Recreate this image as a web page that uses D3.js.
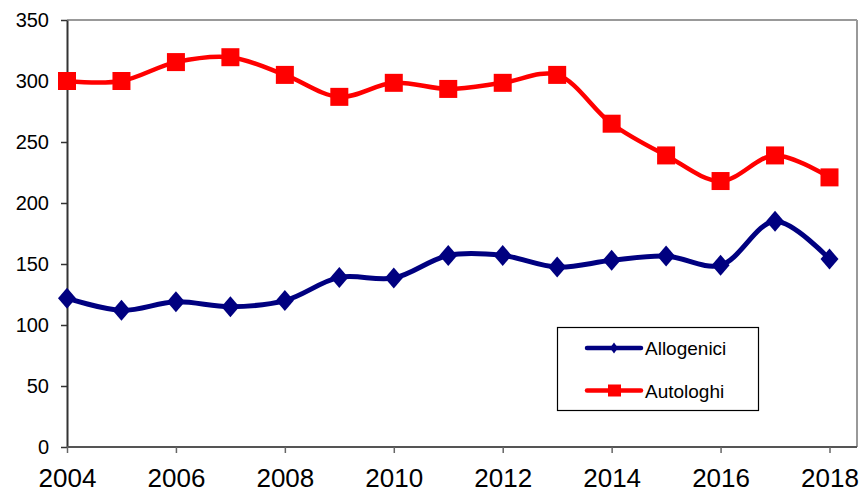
<!DOCTYPE html>
<html>
<head>
<meta charset="utf-8">
<script src="https://cdn.jsdelivr.net/npm/d3@7"></script>
<style>
  body { margin: 0; background: #fff; }
  svg { display: block; font-family: "Liberation Sans", Arial, sans-serif; }
</style>
</head>
<body>
<svg id="chart" width="864" height="491"></svg>
<script>
// data
var years = [2004, 2005, 2006, 2007, 2008, 2009, 2010, 2011, 2012, 2013, 2014, 2015, 2016, 2017, 2018];
var allogenici = [122, 112, 119, 115, 120, 139, 138.5, 157, 157, 147.5, 153, 156.5, 149, 185, 154];
var autologhi = [300, 300, 315.5, 319.5, 305, 287, 298.5, 293.5, 298.5, 305, 265, 239, 218, 239, 221];
var yTicks = [0, 50, 100, 150, 200, 250, 300, 350];
var xTicks = [2004, 2006, 2008, 2010, 2012, 2014, 2016, 2018];
var seriesNames = ["Allogenici", "Autologhi"];

var svg = d3.select("#chart");

// plot box (note: "top" is taken by window.top, so use other names)
var plotLeft = 67, plotRight = 857, plotTop = 20, plotBottom = 447;

var x = d3.scaleLinear().domain([2004, 2018]).range([67, 829.5]);
var y = d3.scaleLinear().domain([0, 350]).range([plotBottom, plotTop]);

// plot frame (top and right edges are grey)
svg.append("line").attr("x1", plotLeft).attr("x2", plotRight).attr("y1", plotTop).attr("y2", plotTop)
    .attr("stroke", "#999").attr("stroke-width", 2);
svg.append("line").attr("x1", plotRight).attr("x2", plotRight).attr("y1", plotTop).attr("y2", plotBottom)
    .attr("stroke", "#999").attr("stroke-width", 2);

// y axis
var yAxis = svg.append("g")
    .attr("transform", "translate(" + plotLeft + ",0)")
    .call(d3.axisLeft(y).tickValues(yTicks).tickSize(6).tickPadding(12).tickSizeOuter(0));
yAxis.select(".domain").attr("stroke", "#333").attr("stroke-width", 2);
yAxis.selectAll(".tick line").attr("stroke", "#333").attr("stroke-width", 1.5);
yAxis.selectAll("text").attr("font-size", "20px").attr("fill", "#000")
    .style("font-family", "Liberation Sans, Arial, sans-serif");

// x axis
var xAxis = svg.append("g")
    .attr("transform", "translate(0," + plotBottom + ")")
    .call(d3.axisBottom(x).tickValues(xTicks).tickFormat(d3.format("d")).tickSize(6).tickPadding(16).tickSizeOuter(0));
xAxis.select(".domain").attr("stroke", "#555").attr("stroke-width", 2)
    .attr("d", "M" + plotLeft + ",0H" + plotRight);
xAxis.selectAll(".tick line").attr("stroke", "#666").attr("stroke-width", 1.5);
xAxis.selectAll("text").attr("font-size", "26px").attr("fill", "#000")
    .style("font-family", "Liberation Sans, Arial, sans-serif");

var line = d3.line()
    .x(function(d){ return x(d.year); })
    .y(function(d){ return y(d.value); })
    .curve(d3.curveCatmullRom.alpha(0.5));

function toPoints(values){
    return values.map(function(v, i){ return {year: years[i], value: v}; });
}

var red = "#ff0000", navy = "#000080";

// Autologhi (red squares)
var autoPts = toPoints(autologhi);
svg.append("path").datum(autoPts).attr("d", line)
    .attr("fill", "none").attr("stroke", red).attr("stroke-width", 4.5);
svg.selectAll(".sq").data(autoPts).enter().append("rect")
    .attr("class", "sq")
    .attr("x", function(d){ return x(d.year) - 9; })
    .attr("y", function(d){ return y(d.value) - 9; })
    .attr("width", 18).attr("height", 18)
    .attr("fill", red);

// Allogenici (navy diamonds)
var alloPts = toPoints(allogenici);
svg.append("path").datum(alloPts).attr("d", line)
    .attr("fill", "none").attr("stroke", navy).attr("stroke-width", 5);

function diamond(cx, cy, w, h){
    return "M" + cx + "," + (cy - h) + "L" + (cx + w) + "," + cy +
        "L" + cx + "," + (cy + h) + "L" + (cx - w) + "," + cy + "Z";
}
svg.selectAll(".dm").data(alloPts).enter().append("path")
    .attr("class", "dm")
    .attr("d", function(d){ return diamond(x(d.year), y(d.value), 9, 10.5); })
    .attr("fill", navy);

// legend
var legend = svg.append("g");
legend.append("rect").attr("x", 557.5).attr("y", 327.5).attr("width", 201).attr("height", 83)
    .attr("fill", "#fff").attr("stroke", "#000").attr("stroke-width", 1.2);

var legendRows = [
    {name: seriesNames[0], color: navy, y: 348, marker: "diamond"},
    {name: seriesNames[1], color: red, y: 390.5, marker: "square"}
];
legendRows.forEach(function(r){
    legend.append("line").attr("x1", 587).attr("x2", 641).attr("y1", r.y).attr("y2", r.y)
        .attr("stroke", r.color).attr("stroke-width", 4.5).attr("stroke-linecap", "round");
    if (r.marker == "diamond") {
        legend.append("path").attr("d", diamond(614, r.y, 4, 5.5)).attr("fill", r.color);
    } else {
        legend.append("rect").attr("x", 608).attr("y", r.y - 6).attr("width", 13).attr("height", 12)
            .attr("fill", r.color);
    }
    legend.append("text").attr("x", 645).attr("y", r.y + 7)
        .attr("font-size", "19px").attr("fill", "#000").text(r.name);
});
</script>
</body>
</html>
